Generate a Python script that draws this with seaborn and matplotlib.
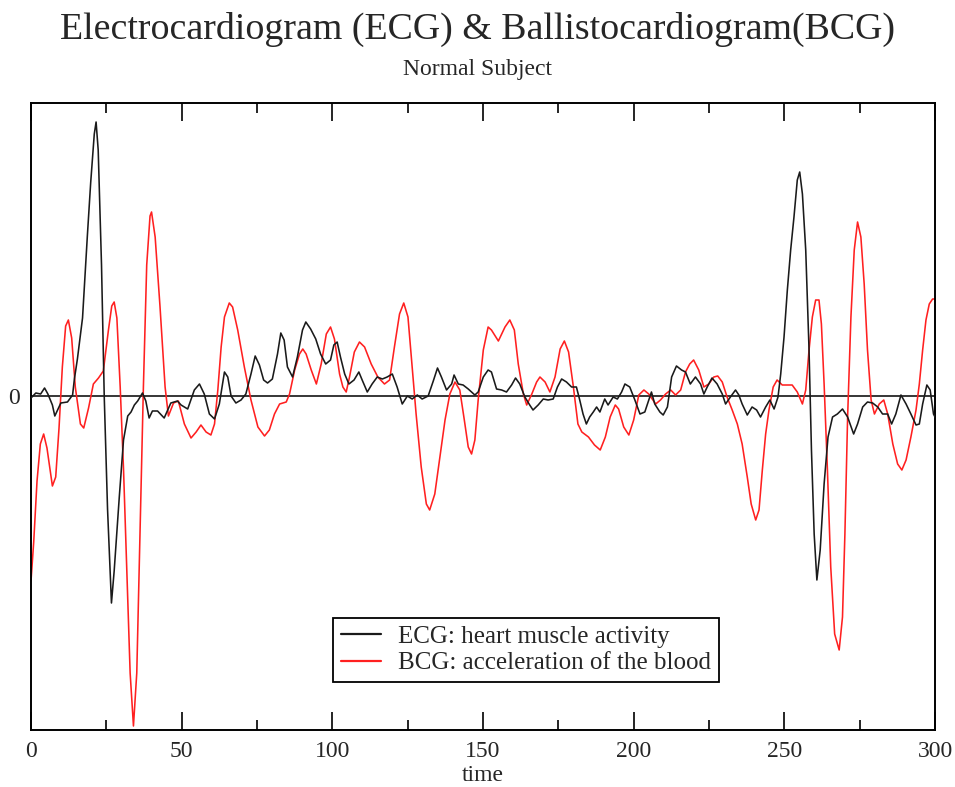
import numpy as np
import pandas as pd
import matplotlib
matplotlib.use("Agg")
import matplotlib.pyplot as plt
from matplotlib.ticker import MultipleLocator
import seaborn as sns

# ---- data ----
ecg_t = [0, 1.6, 3.2, 4.5, 5.6, 7.1, 7.9, 9.9, 12.1, 13.8, 14.4, 15.4, 17.1, 18.7, 19.8,
         21.0, 21.6, 22.3, 23.4, 24.3, 25.4, 26.7, 27.6, 29.3, 30.7, 32.1, 33.2, 34.3, 35.4,
         37.0, 38.1, 39.2, 40.3, 42.0, 44.2, 46.4, 48.6, 49.8, 52.0, 54.2, 55.9, 57.5, 59.2,
         60.9, 62.5, 64.2, 65.3, 66.4, 68.0, 69.7, 71.3, 73.0, 74.4, 75.8, 77.2, 78.5, 80.1,
         81.8, 82.9, 84.0, 85.1, 86.8, 88.4, 90.1, 91.2, 92.8, 94.5, 96.1, 97.8, 99.4, 100.5,
         101.6, 102.7, 104.1, 105.5, 107.2, 108.8, 109.9, 111.6, 113.2, 114.9, 116.6, 118.2,
         119.9, 121.5, 123.2, 124.9, 126.5, 128.2, 129.8, 131.8, 133.5, 134.9, 136.2, 137.9,
         139.6, 140.4, 141.8, 143.4, 145.1, 147.3, 148.4, 150.1, 151.7, 152.8, 154.5, 156.2,
         157.8, 159.5, 160.8, 162.2, 163.9, 165.5, 166.6, 168.3, 170.0, 171.6, 173.3, 174.7,
         176.1, 177.7, 179.4, 181.0, 182.1, 183.2, 184.3, 185.4, 186.6, 187.7, 188.8, 190.4,
         191.5, 193.2, 194.6, 196.0, 197.1, 198.7, 200.4, 202.1, 203.7, 204.8, 205.9, 207.0,
         208.7, 209.8, 211.2, 212.6, 214.2, 215.9, 217.2, 218.8, 220.5, 222.2, 223.3, 224.4,
         226.0, 227.7, 229.4, 230.5, 232.1, 233.8, 234.9, 236.0, 237.7, 239.3, 240.8, 242.1,
         243.8, 245.2, 246.6, 247.9, 248.8, 249.9, 251.0, 252.1, 253.2, 254.3, 255.1, 256.0,
         257.1, 258.2, 259.0, 259.9, 260.8, 261.9, 263.2, 264.5, 266.0, 267.6, 269.3, 271.0,
         273.0, 274.3, 276.0, 277.6, 279.3, 281.0, 282.6, 284.3, 285.6, 287.0, 288.7, 290.4,
         292.0, 293.7, 294.8, 295.9, 297.3, 298.4, 299.5, 300]
ecg_v = [-2, 3, 2, 8, 2, -9, -20, -7, -6, 1, 17, 37, 78, 160, 213,
         262, 274, 246, 131, 0, -113, -207, -175, -101, -44, -20, -16, -9, -5,
         3, -5, -22, -15, -15, -22, -7, -5, -9, -13, 6, 12, 2, -18,
         -23, -8, 24, 19, 0, -7, -4, 2, 22, 40, 31, 16, 13, 17,
         42, 63, 56, 29, 19, 39, 66, 74, 67, 57, 42, 32, 36, 51,
         54, 39, 22, 12, 16, 24, 16, 4, 12, 19, 17, 19,
         22, 9, -8, 0, -3, 1, -3, 0, 15, 28, 19, 6,
         12, 21, 12, 11, 7, 1, 4, 19, 26, 24, 7, 6,
         4, 11, 18, 12, -1, -9, -14, -9, -3, -4, -3, 9,
         17, 14, 9, 9, -4, -18, -28, -21, -16, -11, -16, -3,
         -9, -1, -3, 4, 12, 9, -4, -18, -16, -6, 4, -8,
         -16, -19, -11, 19, 30, 26, 24, 12, 19, 12, 2, 9,
         18, 12, 2, -8, -1, 6, 1, -8, -19, -11, -14, -21,
         -11, -4, -13, -1, 22, 59, 106, 146, 179, 216, 224, 202,
         146, 46, -54, -138, -184, -154, -88, -41, -21, -18, -13, -21,
         -38, -28, -11, -6, -7, -11, -18, -18, -28, -18, 1, -8,
         -18, -29, -28, -8, 11, 6, -18, -21]

bcg_t = [0, 0.9, 2.0, 3.1, 4.2, 5.3, 7.1, 8.2, 9.3, 10.4, 11.5, 12.4, 13.5, 14.7, 16.4,
         17.5, 19.1, 20.7, 22.4, 24.0, 25.7, 26.8, 27.6, 28.5, 29.6, 30.7, 31.8, 32.9, 34.0,
         35.1, 36.2, 37.3, 38.4, 39.5, 40.0, 41.2, 42.8, 44.5, 45.6, 47.3, 48.9, 50.9, 53.1,
         54.8, 56.4, 58.1, 59.7, 60.9, 62.0, 63.1, 64.2, 65.8, 66.9, 68.6, 70.8, 73.0, 75.3,
         77.5, 79.1, 80.8, 82.5, 84.7, 85.8, 87.5, 89.1, 90.2, 91.3, 93.0, 94.7, 96.3, 98.0,
         99.4, 100.7, 102.4, 103.5, 104.6, 105.7, 107.3, 109.0, 110.7, 112.9, 115.1, 117.3,
         119.0, 120.6, 122.3, 123.7, 125.1, 126.4, 127.8, 129.5, 131.2, 132.3, 134.0, 135.7,
         137.4, 139.0, 140.7, 142.3, 143.8, 145.1, 146.2, 147.3, 148.4, 150.1, 151.7, 152.8,
         155.1, 157.3, 158.9, 160.4, 161.7, 163.4, 164.5, 166.2, 167.8, 168.9, 170.6, 172.2,
         173.9, 175.6, 177.0, 178.4, 180.0, 181.5, 182.8, 185.0, 187.0, 188.9, 190.6, 192.2,
         193.9, 195.0, 196.7, 198.4, 200.0, 201.7, 203.4, 205.0, 207.3, 208.9, 210.6, 212.3,
         213.9, 215.6, 217.2, 218.6, 219.9, 221.6, 223.3, 224.9, 226.6, 227.9, 229.4, 231.0,
         232.7, 234.4, 236.0, 237.7, 239.0, 240.5, 241.6, 242.7, 243.8, 244.9, 246.3, 247.6,
         249.3, 251.0, 252.6, 254.3, 256.0, 257.1, 258.2, 259.3, 260.4, 261.5, 262.3, 263.2,
         264.3, 265.4, 266.7, 268.2, 269.3, 270.1, 271.0, 272.1, 273.2, 274.3, 275.4, 276.5,
         277.6, 278.8, 279.9, 281.5, 283.0, 284.3, 286.0, 287.6, 289.0, 290.4, 292.0, 293.7,
         294.8, 295.9, 297.0, 298.1, 299.2, 300]
bcg_v = [-185, -146, -85, -48, -38, -52, -90, -81, -32, 29, 70, 76, 58, 9, -28,
         -32, -12, 12, 18, 25, 66, 90, 94, 78, 9, -73, -175, -277, -330,
         -277, -134, 9, 131, 180, 184, 159, 90, 9, -20, -7, -5, -28, -42,
         -36, -29, -36, -39, -28, 6, 49, 79, 93, 89, 66, 29, -4, -31,
         -40, -34, -18, -8, -6, 2, 26, 42, 47, 42, 26, 12, 32, 62,
         69, 57, 22, 9, 4, 19, 44, 54, 49, 32, 19, 12,
         16, 49, 82, 93, 79, 32, -18, -71, -108, -114, -98, -61,
         -24, 2, 14, 6, -24, -51, -58, -44, -4, 46, 69, 66,
         55, 69, 76, 66, 32, 2, -9, 2, 14, 19, 14, 4,
         19, 47, 55, 44, 9, -28, -36, -41, -49, -54, -41, -21,
         -9, -13, -31, -39, -24, 1, 6, 2, -8, -4, 2, 6,
         1, 6, 24, 32, 36, 26, 9, 12, 19, 20, 14, -1,
         -14, -28, -48, -81, -108, -124, -114, -74, -38, -14, 9, 16,
         11, 11, 11, 4, -8, 6, 46, 79, 96, 96, 72, 12,
         -74, -171, -238, -254, -221, -138, -21, 79, 146, 174, 159, 112,
         46, -4, -18, -8, -4, -18, -48, -68, -74, -64, -41, -14,
         12, 46, 76, 92, 97, 97]

x_ticks = [0, 50, 100, 150, 200, 250, 300]
y_ticks = [0]
title_text = "Electrocardiogram (ECG) & Ballistocardiogram(BCG)"
subtitle_text = "Normal Subject"
xlabel_text = "time"
ecg_label = "ECG: heart muscle activity"
bcg_label = "BCG: acceleration of the blood"

ecg_df = pd.DataFrame({"t": ecg_t, "v": ecg_v})
bcg_df = pd.DataFrame({"t": bcg_t, "v": bcg_v})

sns.set_style("ticks")
plt.rcParams["font.family"] = ["Liberation Serif", "DejaVu Serif"]

fig = plt.figure(figsize=(9.55, 7.87), dpi=100)
ax = fig.add_axes([31 / 955, 1 - 730 / 787, 904 / 955, 627 / 787])

ax.axhline(0, color="black", lw=1.1, zorder=1)
sns.lineplot(data=ecg_df, x="t", y="v", ax=ax, color="#1a1a1a", lw=1.15,
             sort=False, estimator=None, label=ecg_label, zorder=3)
sns.lineplot(data=bcg_df, x="t", y="v", ax=ax, color="#ff2020", lw=1.15,
             sort=False, estimator=None, label=bcg_label, zorder=2)

ax.set_xlim(0, 300)
ax.set_ylim(-334, 293)
ax.set_xticks(x_ticks)
ax.xaxis.set_minor_locator(MultipleLocator(25))
ax.set_yticks(y_ticks)
ax.set_yticklabels(["0"])
ax.tick_params(axis="x", which="major", direction="in", length=13, width=1.2,
               top=True, bottom=True, labelsize=17, pad=8, color="black")
ax.tick_params(axis="x", which="minor", direction="in", length=7, width=1.2,
               top=True, bottom=True, color="black")
ax.tick_params(axis="y", which="major", length=0, labelsize=17, pad=8)
for s in ax.spines.values():
    s.set_color("black")
    s.set_linewidth(1.4)
    s.set_visible(True)

ax.set_xlabel(xlabel_text, fontsize=17, labelpad=2)
ax.set_ylabel("")

fig.text(0.5, 1 - 29 / 787, title_text, ha="center", va="center", fontsize=27.3)
fig.text(0.5, 1 - 70 / 787, subtitle_text, ha="center", va="center", fontsize=17)

leg = ax.legend(loc="upper left", bbox_to_anchor=(302 / 904, 112 / 627),
                borderaxespad=0, frameon=True, fancybox=False, framealpha=1,
                edgecolor="black", fontsize=18, handlelength=1.6,
                handletextpad=0.7, labelspacing=0.15, borderpad=0.3)
leg.get_frame().set_linewidth(1.3)
for line in leg.get_lines():
    line.set_linewidth(1.6)

fig.savefig("out.png", dpi=100)
